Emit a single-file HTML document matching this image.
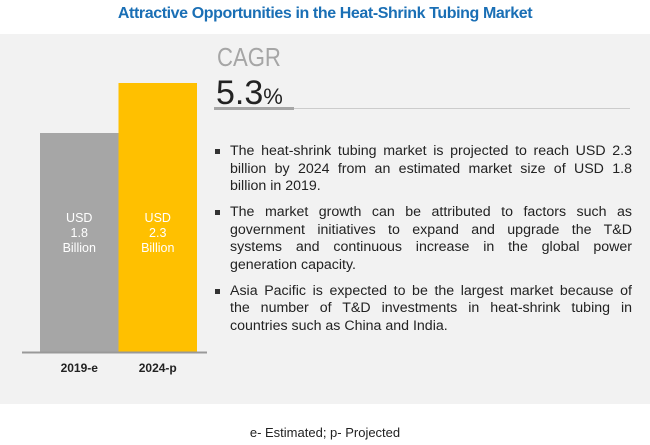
<!DOCTYPE html>
<html><head><meta charset="utf-8"><style>
body{margin:0;width:650px;height:445px;background:#fff;font-family:"Liberation Sans",sans-serif;position:relative;overflow:hidden}
.t{position:absolute}
#title{left:0;width:650px;top:5px;text-align:center;color:#1a6fb5;font-weight:bold;font-size:16px;letter-spacing:-0.4px}
#panel{position:absolute;left:0;top:34px;width:650px;height:370px;background:#f2f2f2}
ul{position:absolute;left:214px;top:143px;width:418px;margin:0;padding:0;list-style:none;font-size:14.2px;line-height:17.5px;color:#222}
li{padding-left:16px;position:relative;margin-bottom:8.5px}
li:before{content:"";position:absolute;left:1px;top:6px;width:5px;height:5px;background:#333}
li span{display:block;text-align:justify;text-align-last:justify;white-space:nowrap}
li span.l{text-align-last:left}
</style></head><body>
<div id="title" class="t">Attractive Opportunities in the Heat-Shrink Tubing Market</div>
<div id="panel"></div>
<svg id="chart" class="t" style="left:0;top:0" width="650" height="445"></svg>
<div class="t" style="left:217px;top:42px;font-size:26px;color:#a6a6a6;transform:scaleX(0.85);transform-origin:left">CAGR</div>
<div class="t" style="left:216px;top:74px;font-size:34px;color:#222">5.3<span style="font-size:22px">%</span></div>
<div class="t" style="left:214px;top:107px;width:80px;height:3px;background:#a6a6a6"></div>
<div class="t" style="left:294px;top:108px;width:336px;height:1px;background:#ccc"></div>
<ul>
<li><span>The heat-shrink tubing market is projected to reach USD 2.3</span><span>billion by 2024 from an estimated market size of USD 1.8</span><span class="l">billion in 2019.</span></li>
<li><span>The market growth can be attributed to factors such as</span><span>government initiatives to expand and upgrade the T&amp;D</span><span>systems and continuous increase in the global power</span><span class="l">generation capacity.</span></li>
<li><span>Asia Pacific is expected to be the largest market because of</span><span>the number of T&amp;D investments in heat-shrink tubing in</span><span class="l">countries such as China and India.</span></li>
</ul>
<div class="t" style="left:0;width:650px;top:425px;text-align:center;font-size:13px;color:#222">e- Estimated; p- Projected</div>
<script>
const categories=["2019-e","2024-p"];
const values=[1.8,2.3];
const labels=["1.8","2.3"];
const colors=["#a6a6a6","#ffc000"];
const svg=document.getElementById('chart');
const NS="http://www.w3.org/2000/svg";
const baseY=352,x0=40,bw=78.5,vMin=-0.39,k=100;
function y(v){return baseY-(v-vMin)*k;}
categories.forEach((c,i)=>{
 const x=x0+i*bw;
 const r=document.createElementNS(NS,'rect');
 r.setAttribute('x',x);r.setAttribute('y',y(values[i]));r.setAttribute('width',bw);r.setAttribute('height',baseY-y(values[i]));r.setAttribute('fill',colors[i]);
 
 
 svg.appendChild(r);
 ["USD",labels[i],"Billion"].forEach((s,j)=>{
  const t=document.createElementNS(NS,'text');
  t.setAttribute('x',x+bw/2);t.setAttribute('y',222+j*15);t.setAttribute('text-anchor','middle');
  t.setAttribute('font-size','12.5');t.setAttribute('fill','#fff');t.textContent=s;
  
  
  svg.appendChild(t);
 });
 const l=document.createElementNS(NS,'text');
 l.setAttribute('x',x+bw/2);l.setAttribute('y',372);l.setAttribute('text-anchor','middle');
 l.setAttribute('font-size','12');l.setAttribute('font-weight','bold');l.setAttribute('fill','#222');l.textContent=c;
 
 
 svg.appendChild(l);
});
const ax=document.createElementNS(NS,'line');
ax.setAttribute('x1',22);ax.setAttribute('x2',207);ax.setAttribute('y1',baseY+0.5);ax.setAttribute('y2',baseY+0.5);ax.setAttribute('stroke','#999');ax.setAttribute('stroke-width','2');


svg.appendChild(ax);
</script>
</body></html>
